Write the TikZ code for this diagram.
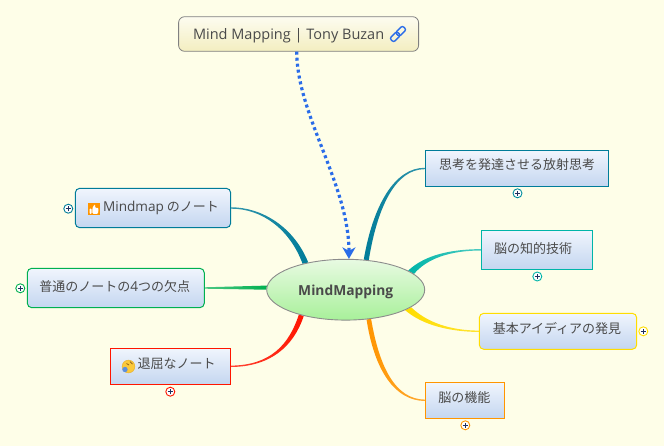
\documentclass[tikz,border=0pt]{standalone}
\usepackage{fontspec}
\setmainfont{Open Sans}
\newfontfamily\jpfont{Noto Sans CJK JP}
\usetikzlibrary{shapes.geometric,arrows.meta,calc}
\definecolor{bgc}{HTML}{FEFEE8}
\definecolor{txt}{HTML}{4A4A4A}
\definecolor{ctealdark}{HTML}{007C99}
\definecolor{cteal}{HTML}{00B5A8}
\definecolor{cgreen}{HTML}{00B050}
\definecolor{cred}{HTML}{FF1500}
\definecolor{cyellow}{HTML}{FFDD00}
\definecolor{corange}{HTML}{FF9500}
\definecolor{linkblue}{HTML}{2A6CE8}
\definecolor{plusnavy}{HTML}{1F2F5F}
\definecolor{topA}{HTML}{F0F5FD}
\definecolor{topB}{HTML}{C4D6F0}
\definecolor{noteA}{HTML}{FDFCF0}
\definecolor{noteB}{HTML}{F3EEC0}
\definecolor{hubA}{HTML}{E8FAE2}
\definecolor{hubB}{HTML}{A8F09A}
\definecolor{faceY}{HTML}{FBC93A}
\definecolor{faceE}{HTML}{E6AE2A}
\definecolor{faceB}{HTML}{5C8FDC}
\definecolor{faceM}{HTML}{8A5A1A}
\pgfdeclarelayer{conn}
\pgfsetlayers{conn,main}
\newcommand{\lifted}[2]{\smash{\raisebox{#1pt}{#2}}}
\newfontfamily\latinpart{Open Sans}
\newcommand{\latinword}[1]{{\fontsize{13.6}{15}\selectfont\latinpart #1}}
\tikzset{
  topicbox/.style={draw=#1,line width=1pt,top color=topA,bottom color=topB,anchor=center,inner sep=0pt,text=txt,font=\fontsize{13}{15}\selectfont\jpfont},
  rbox/.style={topicbox=#1,rounded corners=4.5pt},
  bsize/.style 2 args={minimum width=#1pt,minimum height=#2pt},
  plusmark/.style={circle,draw=#1,fill=white,line width=.9pt,minimum size=9pt,inner sep=0pt,
    path picture={\draw[plusnavy,line width=.9pt] ([xshift=-2.6pt]path picture bounding box.center) -- ([xshift=2.6pt]path picture bounding box.center)
      ([yshift=-2.6pt]path picture bounding box.center) -- ([yshift=2.6pt]path picture bounding box.center);}},
}
\begin{document}
\begin{tikzpicture}[x=1pt,y=-1pt]
\useasboundingbox (0,0) rectangle (664,446);
\begin{pgfonlayer}{conn}
\fill[bgc] (0,0) rectangle (664,446);
\end{pgfonlayer}

\node[draw=black!50,line width=.8pt,rounded corners=6pt,
  top color=noteA,bottom color=noteB,minimum width=240pt,minimum height=34.6pt,inner sep=0pt,text=txt,font=\fontsize{14.5}{15}\selectfont]
  (top) at (298.6,34) {\lifted{-5.5}{\hspace{-20pt}Mind Mapping | Tony Buzan}};

\node[ellipse,draw=black!45,line width=.9pt,top color=hubA,bottom color=hubB,minimum width=158pt,minimum height=60.8pt,inner sep=0pt,
  text=txt,font=\fontsize{13.8}{15}\selectfont\bfseries] (c) at (345.7,289.7) {\lifted{-6}{MindMapping}};

\node[rbox=ctealdark,bsize={155.4}{39.4}] (a) at (153,208) {\lifted{-3.4}{\hspace{16pt}\latinword{Mindmap} のノート}};
\node[rbox=cgreen,bsize={177}{39.4}] (b) at (115.8,288) {\lifted{-3.4}{\hspace{-2pt}普通のノートの\latinword{4}つの欠点}};
\node[topicbox=cred,bsize={120.4}{36}] (d) at (170.5,366.3) {\lifted{-1.9}{\hspace{12pt}退屈なノート}};
\node[topicbox=ctealdark,bsize={183.4}{36.4}] (e) at (517,168.5) {\lifted{-1.4}{思考を発達させる放射思考}};
\node[topicbox=cteal,bsize={111.4}{39}] (f) at (537,249.8) {\lifted{-3.4}{\hspace{-8pt}脳の知的技術}};
\node[rbox=cyellow,bsize={157.4}{36}] (g) at (558,331.3) {\lifted{-1.9}{\hspace{-2pt}基本アイディアの発見}};
\node[topicbox=corange,bsize={79.4}{36}] (h) at (465,400.3) {\lifted{-1.9}{\hspace{-1.4pt}脳の機能}};

\node[plusmark=ctealdark] (pa) at (68.3,208.7) {};
\node[plusmark=cgreen] (pb) at (20.3,288.3) {};
\node[plusmark=cred] (pd) at (170.3,391.7) {};
\node[plusmark=ctealdark!70!cteal] (pe) at (517.5,193.3) {};
\node[plusmark=cteal] (pf) at (537.3,276.5) {};
\node[plusmark=cyellow] (pg) at (643.3,331.3) {};
\node[plusmark=corange] (ph) at (465.3,425.3) {};

\begin{pgfonlayer}{conn}
% left-hand branches: thin end on the left
\shade[left color=ctealdark!80,middle color=ctealdark,right color=ctealdark]
  ([yshift=.7pt]a.east) .. controls (262,207.3) and (294,227) .. (c.144)
  -- (c.149) .. controls (290,229.5) and (262,208.6) .. ([yshift=-.7pt]a.east) -- cycle;
\shade[left color=cgreen!70,middle color=cgreen,right color=cgreen]
  ([yshift=.7pt]b.east) -- (c.177.5) -- (c.180.5) -- ([yshift=-.7pt]b.east) -- cycle;
\shade[left color=cred!80,middle color=cred,right color=cred]
  ([yshift=.7pt]d.east) .. controls (270,365.3) and (289,345) .. (c.208.5)
  -- (c.212.6) .. controls (293.5,347) and (270,366.6) .. ([yshift=-.7pt]d.east) -- cycle;
% right-hand branches: thin end on the right
\shade[left color=ctealdark,middle color=ctealdark,right color=ctealdark!80]
  ([yshift=.7pt]e.west) .. controls (395,167.5) and (373,205) .. (c.59.5)
  -- (c.52.5) .. controls (377.5,206) and (396,169) .. ([yshift=-.7pt]e.west) -- cycle;
\shade[left color=cteal,middle color=cteal,right color=cteal!70]
  ([yshift=.7pt]f.west) .. controls (450,249.4) and (425,255) .. (c.17.5)
  -- (c.13.5) .. controls (427,258.5) and (450,250.6) .. ([yshift=-.7pt]f.west) -- cycle;
\shade[left color=cyellow,middle color=cyellow,right color=cyellow!80]
  ([yshift=.7pt]g.west) .. controls (450,330.4) and (427,322.5) .. (c.-15.5)
  -- (c.-19.5) .. controls (423,325.5) and (450,331.6) .. ([yshift=-.7pt]g.west) -- cycle;
\shade[left color=corange,middle color=corange,right color=corange!80]
  ([yshift=.7pt]h.west) .. controls (396,399.3) and (379.5,368.5) .. (c.-49)
  -- (c.-55.5) .. controls (374.5,371) and (395,400.6) .. ([yshift=-.7pt]h.west) -- cycle;
\end{pgfonlayer}

% relationship arrow
\draw[linkblue,line width=3.2pt,dash pattern=on 3pt off 3pt,
  -{Stealth[length=11.5pt,width=13pt,inset=3.5pt]}]
  ([xshift=-1.9pt]top.south) .. controls (297,115) and (349,185) .. (c.84);

% link icon
\begin{scope}[shift={(398,34)},rotate=45,linkblue,line width=1.4pt]
  \draw[rounded corners=2.2pt] (-9,-2.8) rectangle (1,2.8);
  \draw[rounded corners=2.2pt] (-1,-2.8) rectangle (9,2.8);
\end{scope}

% thumbs-up icon
\fill[corange] (87.5,203) rectangle (100,215.5);
\fill[white,rounded corners=.8pt] (89.5,208.6) rectangle (91.6,213.8);
\fill[white,rounded corners=1pt] (92.3,208.6) -- (94.3,204.6) -- (95.4,205) -- (95,208) -- (98.6,208) -- (98,213.8) -- (92.3,213.8) -- cycle;

% sleepy face icon
\fill[faceY,draw=faceE,line width=.4pt] (128.5,366.5) circle (6.4);
\fill[faceB] (125,369.5) circle (2.7);
\draw[faceM,line width=.7pt] (126.5,363.5) -- (129,365) (130,361.5) -- (132.5,364.2);
\end{tikzpicture}
\end{document}
